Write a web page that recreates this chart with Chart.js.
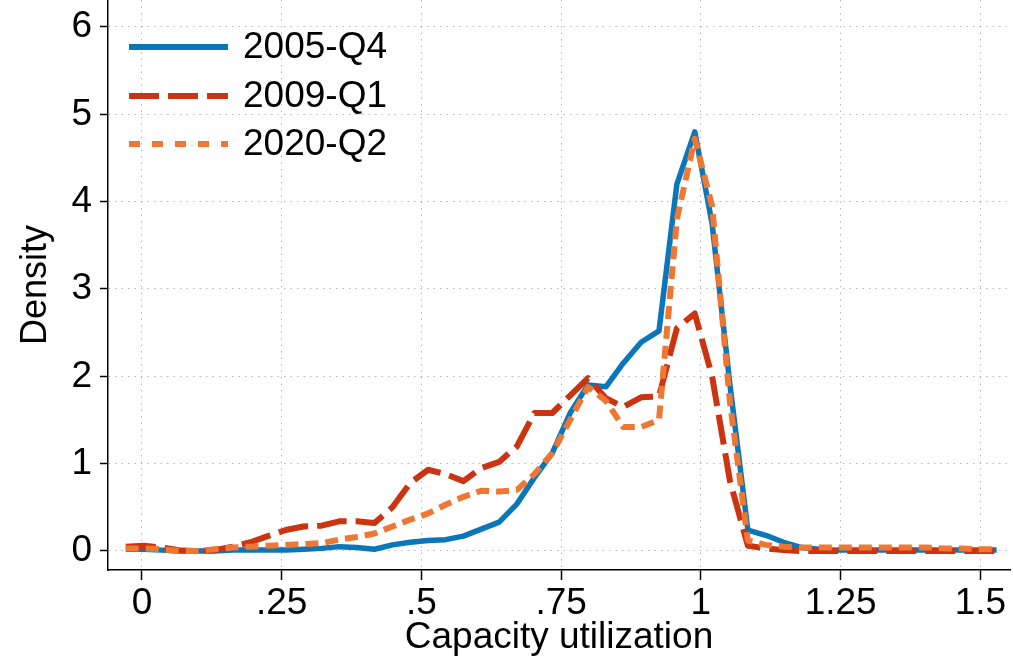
<!DOCTYPE html>
<html>
<head>
<meta charset="utf-8">
<script src="https://cdn.jsdelivr.net/npm/chart.js@4"></script>
<style>
  html, body { margin:0; padding:0; background:#fff; }
  #wrap { width:1013px; height:657px; }
</style>
</head>
<body>
<div id="wrap"><canvas id="c" width="1013" height="657"></canvas></div>
<script>
// evaluation points of the densities
const capUtil = [-0.029, 0.003, 0.035, 0.066, 0.098, 0.130, 0.162, 0.194, 0.225, 0.257,
  0.289, 0.321, 0.353, 0.384, 0.416, 0.448, 0.480, 0.512, 0.543, 0.575,
  0.607, 0.639, 0.671, 0.702, 0.734, 0.766, 0.798, 0.830, 0.861, 0.893,
  0.925, 0.957, 0.989, 1.020, 1.052, 1.084, 1.116, 1.148, 1.179, 1.211,
  1.243, 1.275, 1.307, 1.338, 1.370, 1.402, 1.434, 1.466, 1.497, 1.529]

const dens2005 = [0.02, 0.02, 0.01, 0.00, 0.00, 0.00, 0.01, 0.01, 0.01, 0.01,
  0.02, 0.03, 0.05, 0.04, 0.02, 0.07, 0.10, 0.12, 0.13, 0.17,
  0.25, 0.33, 0.54, 0.84, 1.12, 1.58, 1.90, 1.88, 2.15, 2.39,
  2.52, 4.20, 4.80, 3.75, 1.90, 0.24, 0.18, 0.10, 0.04, 0.02,
  0.01, 0.01, 0.01, 0.01, 0.01, 0.01, 0.01, 0.01, 0.01, 0.01]

const dens2009 = [0.05, 0.06, 0.04, 0.01, 0.00, 0.01, 0.05, 0.10, 0.17, 0.24,
  0.28, 0.29, 0.34, 0.34, 0.32, 0.50, 0.78, 0.93, 0.88, 0.80,
  0.95, 1.02, 1.20, 1.58, 1.58, 1.78, 1.98, 1.75, 1.65, 1.76,
  1.77, 2.55, 2.72, 2.00, 0.80, 0.06, 0.03, 0.01, 0.00, 0.00,
  0.00, 0.00, 0.00, 0.00, 0.00, 0.00, 0.00, 0.00, 0.00, 0.00]

const dens2020 = [0.03, 0.03, 0.02, 0.00, 0.00, 0.02, 0.04, 0.05, 0.06, 0.07,
  0.08, 0.09, 0.13, 0.16, 0.20, 0.28, 0.36, 0.43, 0.53, 0.62,
  0.69, 0.68, 0.70, 0.88, 1.12, 1.50, 1.88, 1.72, 1.42, 1.42,
  1.50, 3.80, 4.72, 3.95, 1.70, 0.12, 0.07, 0.05, 0.04, 0.04,
  0.04, 0.04, 0.04, 0.04, 0.04, 0.04, 0.03, 0.03, 0.02, 0.02]

const seriesNames = ['2005-Q4', '2009-Q1', '2020-Q2']

const xTicks = [0, 0.25, 0.5, 0.75, 1, 1.25, 1.5]
const xTickLabels = ['0', '.25', '.5', '.75', '1', '1.25', '1.5']
const yTicks = [0, 1, 2, 3, 4, 5, 6]

const FONT = 'Liberation Sans, Arial, Helvetica, sans-serif'
const GRID = 'rgba(0,0,0,0.28)'

function pts(ys){ return capUtil.map((x,i)=>({x:x, y:ys[i]})) }

// Stata-style legend in the top left
const legendPlugin = {
  id: 'stLegend',
  afterDraw(chart){
    const ctx = chart.ctx
    const rows = [47, 96, 144]
    chart.data.datasets.forEach((ds,i)=>{
      const y = rows[i]
      ctx.save()
      ctx.strokeStyle = ds.borderColor
      ctx.lineWidth = 6
      ctx.setLineDash(ds.legendDash || [])
      ctx.beginPath(); ctx.moveTo(129, y); ctx.lineTo(228, y); ctx.stroke()
      ctx.setLineDash([])
      ctx.fillStyle = '#000'
      ctx.font = '37px ' + FONT
      ctx.textBaseline = 'middle'
      ctx.fillText(ds.label, 243, y + 1)
      ctx.restore()
    })
  }
}

// pin the plot region: no extra room for end labels
function noPad(s){ s.paddingTop = 0; s.paddingBottom = 0; s.paddingLeft = 0; s.paddingRight = 0 }

new Chart(document.getElementById('c').getContext('2d'), {
  type: 'line',
  data: {
    datasets: [
      { label: seriesNames[0], data: pts(dens2005), borderColor: '#0a77bb', borderWidth: 5.5,
        borderDash: [], legendDash: [], order: 3 },
      { label: seriesNames[1], data: pts(dens2009), borderColor: '#cc3311', borderWidth: 6,
        borderDash: [30, 9], legendDash: [30, 9], order: 2 },
      { label: seriesNames[2], data: pts(dens2020), borderColor: '#ee7733', borderWidth: 6,
        borderDash: [13, 7], legendDash: [11, 12], order: 1 }
    ]
  },
  options: {
    responsive: false,
    animation: false,
    layout: { padding: { top: 0, right: 3, left: 0, bottom: 0 } },
    elements: { point: { radius: 0 }, line: { tension: 0, borderCapStyle: 'butt', borderJoinStyle: 'round' } },
    plugins: { legend: { display: false }, tooltip: { enabled: false } },
    scales: {
      x: {
        type: 'linear', min: -0.0608, max: 1.553,
        afterBuildTicks: s => { s.ticks = xTicks.map(v=>({value:v})) },
        afterFit: s => { s.height = 87; noPad(s) },
        ticks: { color:'#000', font:{ family: FONT, size: 37 }, padding: 2, maxRotation: 0,
          callback: v => xTickLabels[xTicks.indexOf(v)] },
        grid: { color: GRID, lineWidth: 1, tickLength: 10, tickColor: '#000', tickWidth: 1.5 },
        border: { display: true, color: '#000', width: 1.5, dash: [1.5, 5] },
        title: { display: true, text: 'Capacity utilization', color:'#000',
          font:{ family: FONT, size: 37 }, padding: { top: 0, bottom: -3 } }
      },
      y: {
        type: 'linear', min: -0.2176, max: 6.309,
        afterBuildTicks: s => { s.ticks = yTicks.map(v=>({value:v})) },
        afterFit: s => { s.width = 108; noPad(s) },
        ticks: { color:'#000', font:{ family: FONT, size: 37 }, padding: 8,
          callback: v => String(v) },
        grid: { color: GRID, lineWidth: 1, tickLength: 8, tickColor: '#000', tickWidth: 1.5 },
        border: { display: true, color: '#000', width: 1.5, dash: [1.5, 5] },
        title: { display: true, text: 'Density', color:'#000',
          font:{ family: FONT, size: 36 }, padding: { top: 14, bottom: 0 } }
      }
    }
  },
  plugins: [legendPlugin]
})
</script>
</body>
</html>
